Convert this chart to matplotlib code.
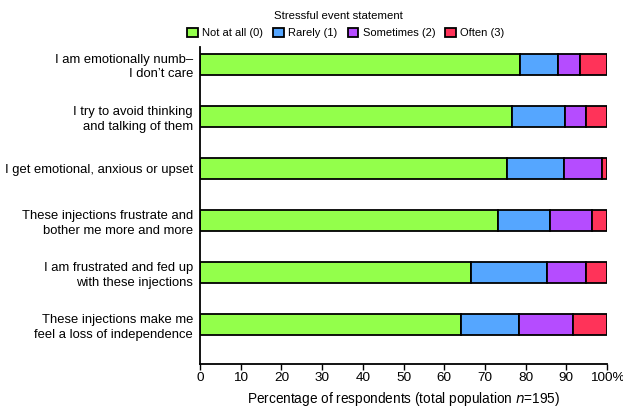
import matplotlib
matplotlib.use("Agg")
import matplotlib.pyplot as plt
import numpy as np

plt.rcParams['font.family'] = ['Liberation Sans', 'DejaVu Sans']

statements = [
    "I am emotionally numb–\nI don’t care",
    "I try to avoid thinking\nand talking of them",
    "I get emotional, anxious or upset",
    "These injections frustrate and\nbother me more and more",
    "I am frustrated and fed up\nwith these injections",
    "These injections make me\nfeel a loss of independence",
]
categories = ["Not at all (0)", "Rarely (1)", "Sometimes (2)", "Often (3)"]
not_at_all = [78.7, 76.7, 75.5, 73.2, 66.6, 64.1]
rarely     = [9.3, 13.0, 13.9, 12.8, 18.6, 14.3]
sometimes  = [5.4, 5.1, 9.4, 10.3, 9.6, 13.3]
often      = [6.6, 5.2, 1.2, 3.7, 5.2, 8.3]
xtick_labels = ["0", "10", "20", "30", "40", "50", "60", "70", "80", "90", "100%"]

colors = ["#93FF4B", "#55A6FF", "#B54CFF", "#FF3359"]
series = [not_at_all, rarely, sometimes, often]

fig = plt.figure(figsize=(6.23, 4.08), dpi=100)
ax = fig.add_axes([200/623, 1-364/408, 407/623, (364-47)/408])

y = np.arange(len(statements))
left = np.zeros(len(statements))
handles = []
for vals, col, lab in zip(series, colors, categories):
    h = ax.barh(y, vals, left=left, height=0.4, color=col, edgecolor='black',
                linewidth=1.3, label=lab)
    handles.append(h)
    left = left + np.array(vals)

ax.set_ylim(5.75, -0.33)
ax.set_xlim(0, 100)
ax.set_yticks(y)
ax.set_yticklabels(statements, fontsize=9.4, ha='right', linespacing=1.3)
ax.tick_params(axis='y', length=0, pad=5)
ax.set_xticks(np.arange(0, 101, 10))
ax.set_xticklabels(xtick_labels, fontsize=9.7)
ax.tick_params(axis='x', length=4, width=1, direction='out', pad=2)
for s in ['top', 'right']:
    ax.spines[s].set_visible(False)
for s in ['left', 'bottom']:
    ax.spines[s].set_linewidth(1.3)
ax.set_xlabel("Percentage of respondents (total population $n$=195)", fontsize=9.8, labelpad=4)

leg = fig.legend(handles=handles, labels=categories, loc='center',
                 bbox_to_anchor=(346/623, 1-33/408), ncol=4, frameon=False,
                 fontsize=8.0, handlelength=0.95, handleheight=0.95,
                 handletextpad=0.4, columnspacing=0.9, borderpad=0)
fig.text(338/623, 1-16/408, "Stressful event statement", ha='center', va='center', fontsize=8.2)

fig.savefig("out.png", dpi=100)
